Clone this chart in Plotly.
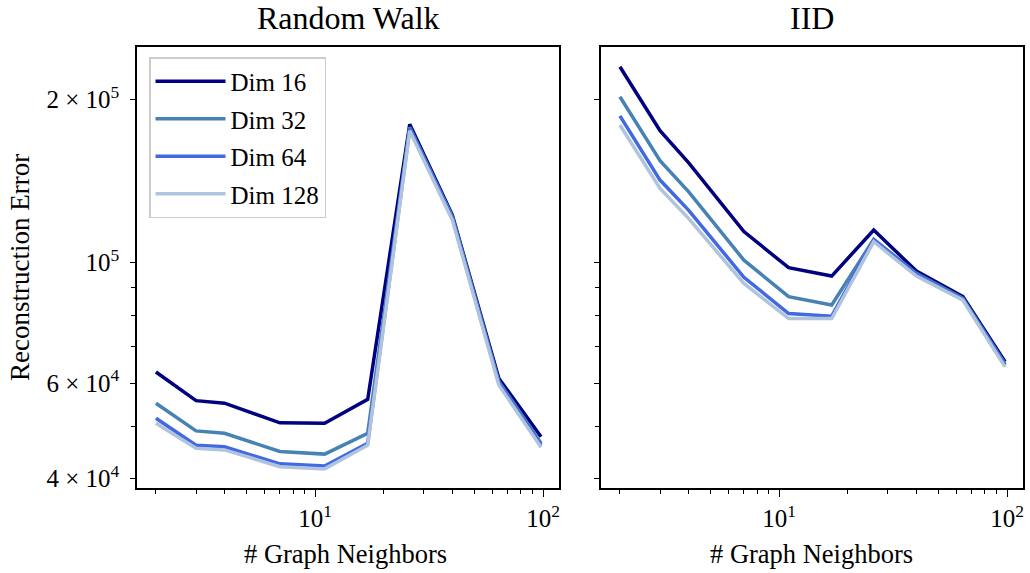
import plotly.graph_objects as go

# ---- data ----
neighbors = [2, 3, 4, 7, 11, 17, 26, 40, 64, 98]
dims = ["Dim 16", "Dim 32", "Dim 64", "Dim 128"]
colors = ["#000080", "#4682B4", "#4169E1", "#B0C4DE"]

rw_dim16 = [62900, 55700, 55100, 50700, 50600, 56000, 179900, 122400, 61200, 47800]
rw_dim32 = [55100, 49000, 48500, 44900, 44400, 48500, 177600, 121600, 60400, 46500]
rw_dim64 = [51700, 46100, 45800, 42600, 42200, 46500, 176800, 120700, 59900, 46100]
rw_dim128 = [50600, 45500, 45200, 42100, 41700, 46100, 175100, 119800, 59500, 45700]

iid_dim16 = [229700, 175100, 152900, 114100, 97900, 94500, 114900, 96500, 86600, 65700]
iid_dim32 = [202200, 154200, 135200, 101100, 86600, 83600, 110400, 95600, 86000, 65100]
iid_dim64 = [186400, 142000, 125000, 94000, 80600, 79700, 110100, 95200, 85600, 64800]
iid_dim128 = [179400, 137100, 120700, 91600, 78900, 78900, 109300, 94500, 85300, 64300]

rw_series = [rw_dim16, rw_dim32, rw_dim64, rw_dim128]
iid_series = [iid_dim16, iid_dim32, iid_dim64, iid_dim128]

titles = ["Random Walk", "IID"]
x_label = "# Graph Neighbors"
y_label = "Reconstruction Error"
y_tickvals = [4e4, 6e4, 1e5, 2e5]
y_ticktext = ["4 × 10<sup>4</sup>", "6 × 10<sup>4</sup>", "10<sup>5</sup>", "2 × 10<sup>5</sup>"]
y_minor = [5e4, 7e4, 8e4, 9e4]
x_tickvals = [10, 100]
x_ticktext = ["10<sup>1</sup>", "10<sup>2</sup>"]
x_minor = [2, 3, 4, 5, 6, 7, 8, 9, 20, 30, 40, 50, 60, 70, 80, 90]

FONT = "Liberation Serif"
W, H = 1030, 573

fig = go.Figure()
for i, (name, col) in enumerate(zip(dims, colors)):
    fig.add_trace(go.Scatter(x=neighbors, y=rw_series[i], mode="lines", name=name,
                             line=dict(color=col, width=3.5), legendgroup=name,
                             xaxis="x", yaxis="y"))
for i, (name, col) in enumerate(zip(dims, colors)):
    fig.add_trace(go.Scatter(x=neighbors, y=iid_series[i], mode="lines", name=name,
                             line=dict(color=col, width=3.5), legendgroup=name,
                             showlegend=False, xaxis="x2", yaxis="y2"))

def px_x(p):
    return p / W

def px_y(p):
    return 1 - p / H

ydom = [px_y(488.3), px_y(46.7)]
xrange_log = [0.218, 2.07]
yrange_log = [4.5844, 5.398]

common_x = dict(type="log", range=xrange_log, showline=True, mirror=True,
                linecolor="black", linewidth=1.5, ticks="outside", ticklen=7,
                tickwidth=1.3, tickcolor="black", tickmode="array",
                tickvals=x_tickvals, ticktext=x_ticktext, showgrid=False,
                zeroline=False, automargin=False,
                tickfont=dict(family=FONT, size=25, color="black"),
                minor=dict(tickmode="array", tickvals=x_minor, ticks="outside",
                           ticklen=4, tickwidth=1.1, tickcolor="black", showgrid=False))
common_y = dict(type="log", range=yrange_log, domain=ydom, showline=True, mirror=True,
                linecolor="black", linewidth=1.5, ticks="outside", ticklen=5,
                tickwidth=1.3, tickcolor="black", tickmode="array",
                tickvals=y_tickvals, ticktext=y_ticktext, showgrid=False,
                zeroline=False, automargin=False,
                tickfont=dict(family=FONT, size=25, color="black"),
                minor=dict(tickmode="array", tickvals=y_minor, ticks="outside",
                           ticklen=4, tickwidth=1.1, tickcolor="black", showgrid=False))

fig.update_layout(
    template="none",
    width=W, height=H,
    margin=dict(l=0, r=0, t=0, b=0, pad=0),
    paper_bgcolor="white", plot_bgcolor="white",
    font=dict(family=FONT, size=25, color="black"),
    xaxis=dict(common_x, domain=[px_x(137), px_x(559)], anchor="y"),
    yaxis=dict(common_y, anchor="x", ticklabelstandoff=6),
    xaxis2=dict(common_x, domain=[px_x(601), px_x(1023)], anchor="y2"),
    yaxis2=dict(common_y, anchor="x2", matches="y", showticklabels=False),
    legend=dict(x=px_x(149), y=px_y(57), xanchor="left", yanchor="top",
                bgcolor="white", bordercolor="#cccccc", borderwidth=1.5,
                font=dict(family=FONT, size=25, color="black"),
                traceorder="grouped", tracegroupgap=2, itemwidth=70),
    showlegend=True,
)

annotations = [
    dict(text=titles[0], x=px_x(348), y=px_y(38), xref="paper", yref="paper",
         xanchor="center", yanchor="bottom", showarrow=False,
         font=dict(family=FONT, size=32, color="black")),
    dict(text=titles[1], x=px_x(812), y=px_y(38), xref="paper", yref="paper",
         xanchor="center", yanchor="bottom", showarrow=False,
         font=dict(family=FONT, size=32, color="black")),
    dict(text=x_label, x=px_x(345), y=px_y(571), xref="paper", yref="paper",
         xanchor="center", yanchor="bottom", showarrow=False,
         font=dict(family=FONT, size=26.5, color="black")),
    dict(text=x_label, x=px_x(811), y=px_y(571), xref="paper", yref="paper",
         xanchor="center", yanchor="bottom", showarrow=False,
         font=dict(family=FONT, size=26.5, color="black")),
    dict(text=y_label, x=px_x(20), y=px_y(268), xref="paper", yref="paper",
         xanchor="center", yanchor="middle", showarrow=False, textangle=-90,
         font=dict(family=FONT, size=27, color="black")),
]
fig.update_layout(annotations=annotations)

fig.write_html(
    "out.html",
    config={"displayModeBar": False},
    post_script="document.body.style.margin='0';document.body.style.padding='0';document.body.style.overflow='hidden';",
)
